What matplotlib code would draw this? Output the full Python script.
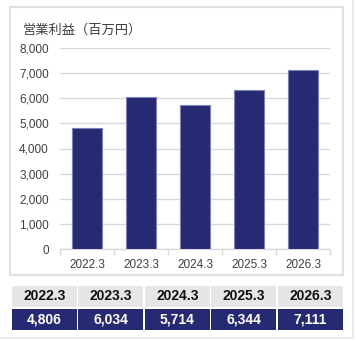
import matplotlib
matplotlib.use("Agg")
import matplotlib.pyplot as plt
from matplotlib.patches import Rectangle
from matplotlib.lines import Line2D

categories = ["2022.3", "2023.3", "2024.3", "2025.3", "2026.3"]
values = [4806, 6034, 5714, 6344, 7111]
value_labels = ["4,806", "6,034", "5,714", "6,344", "7,111"]
yticks = [0, 1000, 2000, 3000, 4000, 5000, 6000, 7000, 8000]
title = "営業利益（百万円）"

W, H = 356, 340
plt.rcParams['font.family'] = ['Noto Sans CJK JP', 'DejaVu Sans']
fig = plt.figure(figsize=(W / 100, H / 100), dpi=100)
fig.patch.set_facecolor('white')

def fx(x):
    return x / W

def fy(y):
    return 1 - y / H

def rect(x0, y0, x1, y1, z=1, **kw):
    r = Rectangle((fx(x0), fy(y1)), fx(x1) - fx(x0), fy(y0) - fy(y1),
                  transform=fig.transFigure, figure=fig, zorder=z, **kw)
    fig.patches.append(r)

# outer frame lines (right and bottom)
fig.lines.append(Line2D([fx(353), fx(353)], [fy(0), fy(338)], transform=fig.transFigure,
                        color='#e6e6e6', lw=1.2, zorder=-2))
fig.lines.append(Line2D([fx(0), fx(353)], [fy(338), fy(338)], transform=fig.transFigure,
                        color='#e6e6e6', lw=1.2, zorder=-2))
# inner panel
rect(10, 7, 343, 275, z=-1, facecolor='white', edgecolor='#e0e0e0', lw=1.5)

# chart axes
ax = fig.add_axes([fx(60), fy(249), fx(330) - fx(60), fy(48) - fy(249)])
ax.set_facecolor('none')
ax.set_zorder(2)
x = list(range(len(categories)))
ax.bar(x, values, width=0.56, color='#262a73', edgecolor='#7d82bb', linewidth=0.8, zorder=3)
ax.set_xlim(-0.5, len(categories) - 0.5)
ax.set_ylim(0, 8000)
ax.set_yticks(yticks)
ax.set_yticklabels([f"{v:,}" for v in yticks], fontsize=8.5, color='#404040',
                   family=['Liberation Sans', 'DejaVu Sans'])
ax.yaxis.grid(True, color='#d9d9d9', lw=1, zorder=0)
ax.tick_params(axis='y', length=0, pad=8)
ax.set_xticks(x)
ax.set_xticklabels(categories, fontsize=8.5, color='#404040',
                   family=['Liberation Sans', 'DejaVu Sans'])
ax.tick_params(axis='x', length=0, pad=7)
ax.set_xticks([i - 0.5 for i in range(len(categories) + 1)], minor=True)
ax.tick_params(axis='x', which='minor', length=4, color='#d9d9d9', width=1)
for s in ['top', 'right', 'left']:
    ax.spines[s].set_visible(False)
ax.spines['bottom'].set_color('#d9d9d9')
ax.spines['bottom'].set_linewidth(1)

fig.text(fx(23), fy(30), title, fontsize=9.5, color='#404040', va='center', ha='left')

# table
col_x0 = [12, 78, 145, 211, 278]
col_w = 65
for i, (c, v) in enumerate(zip(categories, value_labels)):
    x0 = col_x0[i]
    x1 = x0 + col_w
    rect(x0, 286, x1, 307, facecolor='#e6e6e6', edgecolor='none')
    rect(x0, 309, x1, 330, facecolor='#262a73', edgecolor='none')
    fig.text(fx((x0 + x1) / 2), fy(296.5), c, fontsize=10, fontweight='bold', color='#111111',
             ha='center', va='center', family=['Liberation Sans', 'DejaVu Sans'])
    fig.text(fx((x0 + x1) / 2), fy(319.5), v, fontsize=10, fontweight='bold', color='white',
             ha='center', va='center', family=['Liberation Sans', 'DejaVu Sans'])

fig.savefig("out.png", dpi=100, facecolor='white')
